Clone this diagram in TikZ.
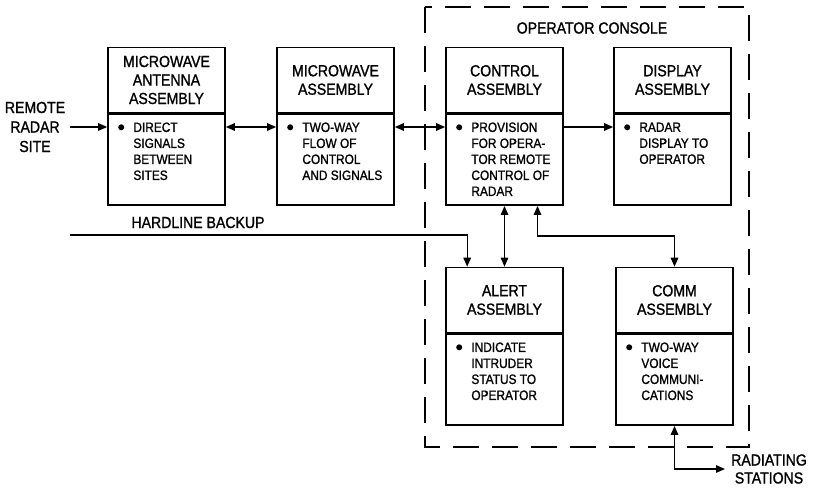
\documentclass[tikz,border=0pt]{standalone}
\usepackage{fontspec}
\setmainfont[FakeStretch=0.88,FakeBold=1.2]{Liberation Sans}
\usetikzlibrary{arrows.meta,calc}
\begin{document}
\begin{tikzpicture}[x=1pt,y=-1pt,
  ttl/.style={draw, line width=1.6pt, minimum width=117pt, minimum height=65pt, inner sep=0pt, align=center, font=\fontsize{16}{18.5}\selectfont},
  bdy/.style={draw, line width=1.6pt, minimum width=117pt, minimum height=91pt, inner sep=0pt, anchor=north},
  txt/.style={align=left, anchor=north west, inner sep=0pt, font=\fontsize{13.5}{16}\selectfont},
  lbl/.style={align=center, inner sep=0pt, font=\fontsize{16}{19.5}\selectfont},
  con/.style={line width=1.4pt},
  tip/.tip={Triangle[length=9pt,width=7.5pt]},
  arr/.style={con, -tip},
  darr/.style={con, tip-tip},
  console/.style={line width=2.6pt, dash pattern=on 26pt off 13pt}
]
\useasboundingbox (0,0) rectangle (816,492);

% operator console
\draw[console] (425,7) rectangle (749,447);
\node[lbl] (oc) at (592,28) {OPERATOR CONSOLE};

% boxes
\newcommand{\assy}[6]{%
  % #1 name, #2 center x, #3 title center y, #4 title, #5 body
  \node[ttl] (#1t) at (#2,#3) {#4};
  \node[bdy] (#1b) at (#1t.south) {};
  \fill ([shift={(14pt,-14pt)}]#1b.north west) circle (3pt);
  \node[txt] (#1x) at ([shift={(26pt,-9pt)}]#1b.north west) {#5};
}
\assy{ant}{166.5}{80}{MICROWAVE\\ANTENNA\\ASSEMBLY}{DIRECT\\SIGNALS\\BETWEEN\\SITES}{}
\assy{mw}{335.5}{80}{MICROWAVE\\ASSEMBLY}{TWO-WAY\\FLOW OF\\CONTROL\\AND SIGNALS}{}
\assy{ctl}{504.5}{80}{CONTROL\\ASSEMBLY}{PROVISION\\FOR OPERA-\\TOR REMOTE\\CONTROL OF\\RADAR}{}
\assy{disp}{672.5}{80}{DISPLAY\\ASSEMBLY}{RADAR\\DISPLAY TO\\OPERATOR}{}
\assy{alert}{504.5}{300}{ALERT\\ASSEMBLY}{INDICATE\\INTRUDER\\STATUS TO\\OPERATOR}{}
\assy{comm}{674.5}{300}{COMM\\ASSEMBLY}{TWO-WAY\\VOICE\\COMMUNI-\\CATIONS}{}

% labels
\node[lbl] (remote) at (35,127) {REMOTE\\RADAR\\SITE};
\node[lbl, anchor=base] (hlt) at (198,228) {HARDLINE BACKUP};
\node[lbl, anchor=west, font=\fontsize{16}{18}\selectfont] (radt) at (731,469) {RADIATING\\STATIONS};

% connectors
\coordinate (row) at (0,127);
\coordinate (hl) at (70,235);
\coordinate (rad) at (725,469);
\draw[arr] ([xshift=5pt]remote.east) -- (row -| antb.west);
\draw[darr] (row -| antb.east) -- (row -| mwb.west);
\draw[darr] (row -| mwb.east) -- (row -| ctlb.west);
\draw[arr] (row -| ctlb.east) -- (row -| dispb.west);
\draw[arr] (hl) -| ([xshift=22pt]alertt.north west);
\draw[darr] (ctlb.south) -- (alertt.north);
\draw[darr] ([xshift=33pt]ctlb.south) -- ++(0,30) -| (commt.north);
\draw[darr] (commb.south) |- (rad);
\end{tikzpicture}
\end{document}
